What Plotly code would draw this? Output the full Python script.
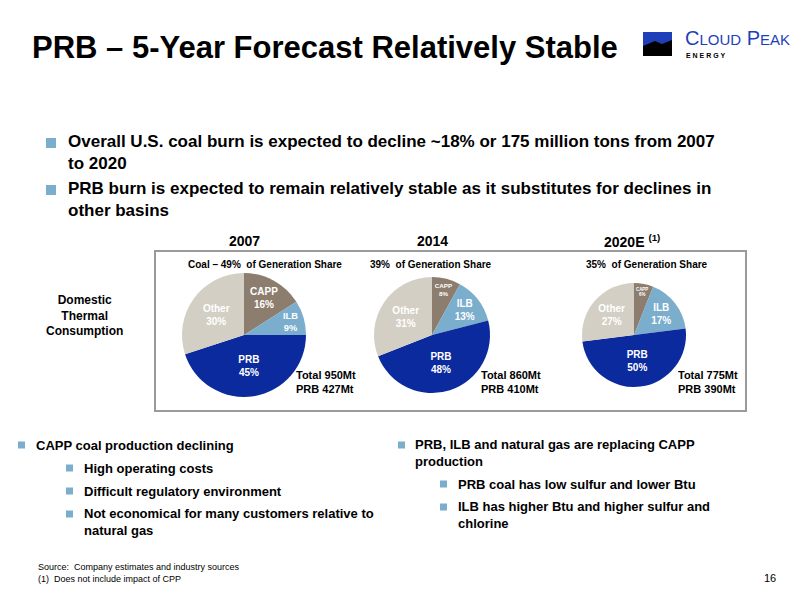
import plotly.graph_objects as go

labels = ["CAPP", "ILB", "PRB", "Other"]
share_2007 = [16, 9, 45, 30]
share_2014 = [8, 13, 48, 31]
share_2020 = [6, 17, 50, 27]
years = ["2007", "2014", "2020E <sup>(1)</sup>"]
gen_share = ["Coal – 49%  of Generation Share", "39%  of Generation Share", "35%  of Generation Share"]
totals = ["Total 950Mt<br>PRB 427Mt", "Total 860Mt<br>PRB 410Mt", "Total 775Mt<br>PRB 390Mt"]
colors = ["#8C7D6E", "#7BADCC", "#0A2A9E", "#D4CFC5"]

W, H = 800, 600
OFF = 8  # page body margin
def px(x): return (x - OFF) / W
def py(y): return 1 - (y - OFF) / H

fig = go.Figure()

# pies: (center x, center y, radius)
pies = [(244, 335, 62), (432, 335, 58), (634, 335, 52)]
for (cx, cy, r), vals in zip(pies, [share_2007, share_2014, share_2020]):
    fig.add_trace(go.Pie(
        labels=labels, values=vals, sort=False, direction="clockwise",
        marker=dict(colors=colors), showlegend=False,
        texttemplate="<b>%{label}<br>%{value}%</b>", textposition="inside",
        insidetextorientation="horizontal",
        textfont=dict(family="Arial", size=10, color="white"),
        domain=dict(x=[px(cx - r), px(cx + r)], y=[py(cy + r), py(cy - r)]),
    ))

ann = []
def text(x, y, t, size=12, color="black", bold=False, xanchor="left", align="left"):
    if bold:
        t = "<b>" + t + "</b>"
    ann.append(dict(x=px(x), y=py(y), xref="paper", yref="paper", text=t, showarrow=False,
                    xanchor=xanchor, yanchor="middle", align=align,
                    font=dict(family="Arial", size=size, color=color)))

text(30, 48, "PRB – 5-Year Forecast Relatively Stable", 31, bold=True)
text(683, 38, "C<span style='font-size:15px'>LOUD</span> P<span style='font-size:15px'>EAK</span>", 20, color="#1F3FB8")
text(684, 56, "E N E R G Y", 7, bold=True)

text(66, 152, "Overall U.S. coal burn is expected to decline ~18% or 175 million tons from 2007<br>to 2020", 17, bold=True)
text(66, 199, "PRB burn is expected to remain relatively stable as it substitutes for declines in<br>other basins", 17, bold=True)

for x, t in zip([244, 432, 632], years):
    text(x, 241, t, 14, bold=True, xanchor="center")
for x, t in zip([186, 368, 584], gen_share):
    text(x, 264, t, 10, bold=True)
for x, t in zip([294, 479, 676], totals):
    text(x, 382, t, 11, bold=True)
text(84, 315, "Domestic<br>Thermal<br>Consumption", 12, bold=True, xanchor="center", align="center")

text(34, 445, "CAPP coal production declining", 13, bold=True)
text(82, 468, "High operating costs", 13, bold=True)
text(82, 491, "Difficult regulatory environment", 13, bold=True)
text(82, 522, "Not economical for many customers relative to<br>natural gas", 13, bold=True)
text(413, 453, "PRB, ILB and natural gas are replacing CAPP<br>production", 13, bold=True)
text(456, 484, "PRB coal has low sulfur and lower Btu", 13, bold=True)
text(456, 515, "ILB has higher Btu and higher sulfur and<br>chlorine", 13, bold=True)

text(36, 573, "Source:  Company estimates and industry sources<br>(1)  Does not include impact of CPP", 9)
text(778, 578, "16", 11, xanchor="right")

shapes = [dict(type="rect", xref="paper", yref="paper", x0=px(155), x1=px(746), y0=py(411), y1=py(251),
               line=dict(color="#9A9A9A", width=2))]
def square(x, y, s=8):
    shapes.append(dict(type="rect", xref="paper", yref="paper", x0=px(x), x1=px(x + s),
                       y0=py(y + s / 2), y1=py(y - s / 2), fillcolor="#7BADCC", line=dict(width=0)))
for y in [143, 190]:
    square(46, y, 10)
for x, y in [(18, 445), (66, 468), (66, 491), (66, 514), (398, 445), (440, 484), (440, 507)]:
    square(x, y, 7)
# logo mark
shapes.append(dict(type="rect", xref="paper", yref="paper", x0=px(643), x1=px(672), y0=py(56), y1=py(32),
                   fillcolor="#1F3FB8", line=dict(width=0)))
shapes.append(dict(type="path", xref="paper", yref="paper",
                   path=f"M {px(643)} {py(56)} L {px(643)} {py(46)} L {px(655)} {py(41)} L {px(662)} {py(44)} L {px(672)} {py(40)} L {px(672)} {py(56)} Z",
                   fillcolor="black", line=dict(width=0)))

fig.update_layout(width=W, height=H, margin=dict(l=0, r=0, t=0, b=0),
                  paper_bgcolor="white", plot_bgcolor="white",
                  annotations=ann, shapes=shapes)
fig.write_html("out.html")
